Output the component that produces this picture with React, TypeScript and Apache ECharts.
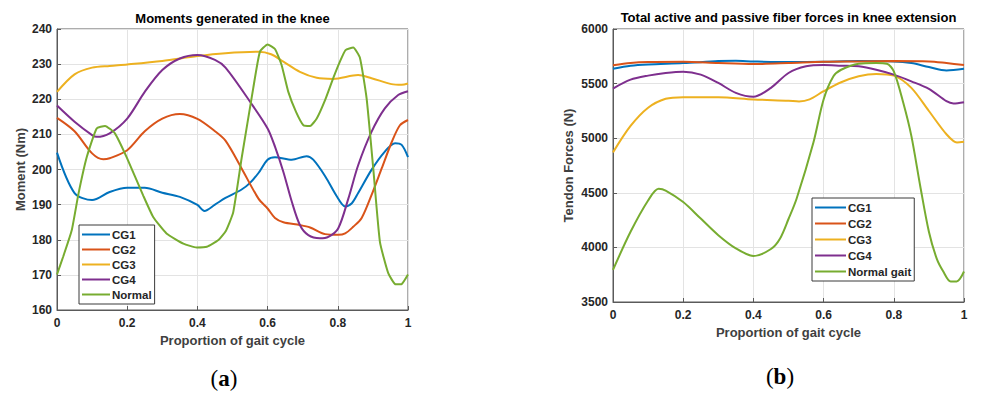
import { useEffect, useRef } from "react";
import * as echarts from "echarts";

// ---------- Data (a): Moments generated in the knee (Nm) ----------
const momentCG1: [number, number][] = [
  [0, 204.8], [0.05, 193.3], [0.1, 191.3], [0.15, 193.6], [0.2, 194.8], [0.25, 194.8],
  [0.3, 193.4], [0.35, 192.2], [0.4, 189.9], [0.42, 188.2], [0.45, 190], [0.48, 191.9],
  [0.526, 194.3], [0.55, 196.2], [0.574, 199], [0.6, 202.8], [0.621, 203.5], [0.669, 202.8],
  [0.711, 203.8], [0.73, 202.8], [0.764, 198.1], [0.797, 192.4], [0.821, 189.5], [0.84, 190.4],
  [0.858, 193.3], [0.896, 199.9], [0.934, 205.1], [0.963, 207.5], [0.982, 207], [1, 203.5],
];
const momentCG2: [number, number][] = [
  [0, 214.7], [0.05, 210.9], [0.1, 204.6], [0.132, 202.9], [0.15, 203.2], [0.2, 205.5],
  [0.25, 210.9], [0.3, 214.5], [0.35, 215.8], [0.4, 214.4], [0.45, 210.9], [0.48, 208.2],
  [0.526, 200.3], [0.574, 191.7], [0.6, 188.9], [0.621, 186.2], [0.645, 185], [0.692, 184.2],
  [0.721, 183.5], [0.764, 181.6], [0.801, 181.4], [0.821, 181.8], [0.844, 183.7], [0.868, 186.2],
  [0.896, 192.7], [0.925, 200.3], [0.954, 207.9], [0.977, 212.6], [1, 214.1],
];
const momentCG3: [number, number][] = [
  [0, 222.1], [0.05, 227.1], [0.1, 229], [0.15, 229.5], [0.2, 229.9], [0.3, 230.9],
  [0.4, 232.3], [0.48, 233.1], [0.574, 233.5], [0.61, 232.8], [0.645, 230.7], [0.692, 227.8],
  [0.74, 226.1], [0.787, 225.8], [0.858, 226.9], [0.896, 226], [0.953, 224.3], [0.982, 224.1],
  [1, 224.5],
];
const momentCG4: [number, number][] = [
  [0, 218.2], [0.05, 213.6], [0.1, 209.8], [0.113, 209.3], [0.15, 210.3], [0.2, 214.5],
  [0.25, 222.1], [0.3, 228.3], [0.35, 231.6], [0.4, 232.6], [0.45, 231.2], [0.48, 229],
  [0.55, 219.3], [0.6, 211.7], [0.621, 206.5], [0.645, 199.3], [0.669, 190.8], [0.692, 184.2],
  [0.716, 181.3], [0.749, 180.4], [0.773, 180.8], [0.801, 183.2], [0.83, 191.7], [0.858, 201.2],
  [0.896, 210.7], [0.934, 217.4], [0.972, 221.2], [1, 222.3],
];
const momentNormal: [number, number][] = [
  [0, 170.1], [0.018, 175.3], [0.042, 182.7], [0.061, 193], [0.085, 203.6], [0.113, 211.7],
  [0.137, 212.4], [0.165, 210.3], [0.198, 203.6], [0.246, 192.5], [0.274, 186.5], [0.312, 181.8],
  [0.36, 178.9], [0.398, 177.8], [0.427, 178], [0.46, 179.9], [0.481, 182.5], [0.502, 187.8],
  [0.526, 203.2], [0.559, 223.1], [0.578, 233.5], [0.6, 235.6], [0.621, 234.3], [0.64, 229.7],
  [0.659, 222.1], [0.681, 216.4], [0.702, 212.6], [0.721, 212.4], [0.74, 214.5], [0.764, 219.8],
  [0.787, 226], [0.806, 230.7], [0.822, 234], [0.844, 234.7], [0.863, 231.8], [0.882, 220.3],
  [0.901, 200.3], [0.92, 179.4], [0.944, 170.4], [0.965, 167.3], [0.982, 167.4], [1, 170.1],
];

// ---------- Data (b): Tendon forces (N) ----------
const forceCG1: [number, number][] = [
  [0, 5636], [0.05, 5664], [0.1, 5676], [0.2, 5688], [0.3, 5706], [0.35, 5709], [0.4, 5703],
  [0.5, 5697], [0.6, 5700], [0.7, 5706], [0.8, 5703], [0.85, 5688], [0.9, 5652], [0.95, 5621],
  [1, 5636],
];
const forceCG2: [number, number][] = [
  [0, 5667], [0.05, 5688], [0.1, 5697], [0.2, 5700], [0.3, 5688], [0.4, 5679], [0.5, 5688],
  [0.6, 5700], [0.7, 5703], [0.8, 5706], [0.9, 5703], [0.95, 5688], [1, 5670],
];
const forceCG3: [number, number][] = [
  [0, 4870], [0.05, 5112], [0.1, 5279], [0.15, 5361], [0.2, 5376], [0.3, 5376], [0.4, 5355],
  [0.5, 5343], [0.53, 5336], [0.56, 5355], [0.6, 5430], [0.65, 5512], [0.7, 5567], [0.75, 5588],
  [0.8, 5573], [0.85, 5461], [0.9, 5249], [0.95, 5036], [0.98, 4961], [1, 4967],
];
const forceCG4: [number, number][] = [
  [0, 5455], [0.05, 5536], [0.1, 5573], [0.15, 5597], [0.2, 5609], [0.25, 5582], [0.3, 5506],
  [0.35, 5415], [0.4, 5379], [0.45, 5461], [0.5, 5597], [0.55, 5658], [0.6, 5670], [0.65, 5664],
  [0.7, 5658], [0.75, 5627], [0.8, 5582], [0.85, 5521], [0.9, 5452], [0.95, 5339], [0.97, 5318],
  [1, 5330],
];
const forceNormal: [number, number][] = [
  [0, 3794], [0.05, 4143], [0.1, 4430], [0.13, 4536], [0.15, 4521], [0.2, 4415], [0.25, 4264],
  [0.3, 4112], [0.35, 3991], [0.4, 3921], [0.45, 3985], [0.476, 4082], [0.5, 4260], [0.523, 4446],
  [0.571, 4961], [0.6, 5355], [0.628, 5567], [0.65, 5627], [0.7, 5682], [0.75, 5688], [0.78, 5682],
  [0.8, 5612], [0.827, 5324], [0.85, 5021], [0.875, 4567], [0.9, 4143], [0.922, 3900],
  [0.941, 3779], [0.962, 3688], [0.979, 3688], [1, 3779],
];

const namesA = ["CG1", "CG2", "CG3", "CG4", "Normal"];
const namesB = ["CG1", "CG2", "CG3", "CG4", "Normal gait"];
const titleA = "Moments generated in the knee";
const titleB = "Total active and passive fiber forces in knee extension";
const xName = "Proportion of gait cycle";
const yNameA = "Moment (Nm)";
const yNameB = "Tendon Forces (N)";

const COLORS = ["#0072BD", "#D95319", "#EDB120", "#7E2F8E", "#77AC30"];
const FONT = "'Liberation Sans', Arial, Helvetica, sans-serif";
const SERIF = "'Liberation Serif', 'DejaVu Serif', serif";

function xAxisCfg(gridIndex: number) {
  return {
    type: "value" as const,
    gridIndex,
    min: 0,
    max: 1,
    interval: 0.2,
    name: xName,
    nameLocation: "middle" as const,
    nameGap: 22,
    nameTextStyle: { fontFamily: FONT, fontWeight: "bold" as const, fontSize: 13, color: "#404040" },
    axisLine: { show: true, lineStyle: { color: "#5a5a5a", width: 1 } },
    axisTick: { show: true, inside: true, length: 4, lineStyle: { color: "#5a5a5a" } },
    axisLabel: { fontFamily: FONT, fontWeight: "bold" as const, fontSize: 12, color: "#262626", margin: 7 },
    splitLine: { show: true, lineStyle: { color: "#e3e3e3", width: 1 } },
  };
}

function yAxisCfg(gridIndex: number, min: number, max: number, interval: number, name: string, gap: number) {
  return {
    type: "value" as const,
    gridIndex,
    min,
    max,
    interval,
    name,
    nameLocation: "middle" as const,
    nameGap: gap,
    nameRotate: 90,
    nameTextStyle: { fontFamily: FONT, fontWeight: "bold" as const, fontSize: 13, color: "#404040" },
    axisLine: { show: true, lineStyle: { color: "#5a5a5a", width: 1 } },
    axisTick: { show: true, inside: true, length: 4, lineStyle: { color: "#5a5a5a" } },
    axisLabel: {
      fontFamily: FONT,
      fontWeight: "bold" as const,
      fontSize: 12,
      color: "#262626",
      margin: 5,
      formatter: (v: number) => String(v),
    },
    splitLine: { show: true, lineStyle: { color: "#e3e3e3", width: 1 } },
  };
}

function lineSeries(name: string, data: [number, number][], color: string, axis: number, smooth: number) {
  return {
    type: "line" as const,
    name,
    data,
    xAxisIndex: axis,
    yAxisIndex: axis,
    showSymbol: false,
    symbol: "none",
    smooth,
    color,
    lineStyle: { color, width: 2 },
    emphasis: { disabled: true },
  };
}

function legendCfg(names: string[], left: number, top: number, itemWidth: number, itemGap: number, pad: number[]) {
  return {
    orient: "vertical" as const,
    left,
    top,
    data: names,
    icon: "rect",
    itemWidth,
    itemHeight: 2,
    itemGap,
    padding: pad,
    backgroundColor: "#ffffff",
    borderColor: "#3a3a3a",
    borderWidth: 1,
    borderRadius: 0,
    selectedMode: false,
    textStyle: {
      fontFamily: FONT,
      fontWeight: "bold" as const,
      fontSize: 11.5,
      color: "#262626",
      lineHeight: 13,
      padding: [0, 0, 0, -3],
    },
  };
}

export default function App() {
  const ref = useRef<HTMLDivElement>(null);
  useEffect(() => {
    document.body.style.margin = "0";
    const chart = echarts.init(ref.current!, null, { renderer: "svg" });
    const option = {
      animation: false,
      backgroundColor: "#ffffff",
      grid: [
        { left: 57, right: 573, top: 29, bottom: 84, show: true, borderColor: "#5a5a5a", borderWidth: 1 },
        { left: 613, right: 17, top: 29, bottom: 92, show: true, borderColor: "#5a5a5a", borderWidth: 1 },
      ],
      xAxis: [xAxisCfg(0), xAxisCfg(1)],
      yAxis: [
        yAxisCfg(0, 160, 240, 10, yNameA, 30),
        yAxisCfg(1, 3500, 6000, 500, yNameB, 38),
      ],
      legend: [
        legendCfg(namesA, 79, 225, 28, 2, [3, 3, 3, 3]),
        legendCfg(namesB, 812, 198, 31, 3, [3, 3, 3, 3]),
      ],
      series: [
        lineSeries(namesA[0], momentCG1, COLORS[0], 0, 0.3),
        lineSeries(namesA[1], momentCG2, COLORS[1], 0, 0.3),
        lineSeries(namesA[2], momentCG3, COLORS[2], 0, 0.3),
        lineSeries(namesA[3], momentCG4, COLORS[3], 0, 0.3),
        lineSeries(namesA[4], momentNormal, COLORS[4], 0, 0.15),
        lineSeries(namesB[0], forceCG1, COLORS[0], 1, 0.3),
        lineSeries(namesB[1], forceCG2, COLORS[1], 1, 0.3),
        lineSeries(namesB[2], forceCG3, COLORS[2], 1, 0.3),
        lineSeries(namesB[3], forceCG4, COLORS[3], 1, 0.3),
        lineSeries(namesB[4], forceNormal, COLORS[4], 1, 0.3),
      ],
      graphic: [
        {
          type: "text",
          x: 232.5,
          y: 18,
          style: { text: titleA, font: `bold 13px ${FONT}`, fill: "#000000", textAlign: "center", textVerticalAlign: "middle" },
        },
        {
          type: "text",
          x: 788.5,
          y: 17,
          style: { text: titleB, font: `bold 13px ${FONT}`, fill: "#000000", textAlign: "center", textVerticalAlign: "middle" },
        },
        {
          type: "text",
          x: 224,
          y: 378,
          style: {
            text: "({a|a})",
            font: `23px ${SERIF}`,
            fill: "#000000",
            textAlign: "center",
            textVerticalAlign: "middle",
            rich: { a: { font: `bold 23px ${SERIF}`, fill: "#000000" } },
          },
        },
        {
          type: "text",
          x: 780,
          y: 376,
          style: {
            text: "({a|b})",
            font: `23px ${SERIF}`,
            fill: "#000000",
            textAlign: "center",
            textVerticalAlign: "middle",
            rich: { a: { font: `bold 23px ${SERIF}`, fill: "#000000" } },
          },
        },
      ],
    };
    chart.setOption(option as any);
    return () => chart.dispose();
  }, []);
  return <div ref={ref} style={{ width: 981, height: 394 }} />;
}
